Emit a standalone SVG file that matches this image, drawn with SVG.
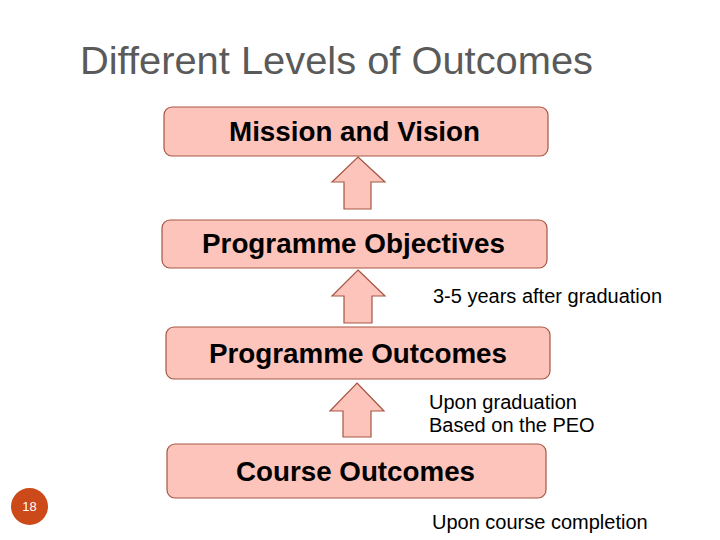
<svg xmlns="http://www.w3.org/2000/svg" width="720" height="540" viewBox="0 0 720 540">
<style>
.box{fill:#fdc4bb;stroke:#a65643;stroke-width:1.2}
.arr{fill:#fdc4bb;stroke:#a65643;stroke-width:1.2}
.bt{font-family:"Liberation Sans",Arial,sans-serif;font-weight:bold;font-size:27px;fill:#000;text-anchor:middle}
.lt{font-family:"Liberation Sans",Arial,sans-serif;font-size:20px;fill:#000}
</style>
<rect width="720" height="540" fill="#fff"/>
<text x="80" y="74" font-family="Liberation Sans, Arial, sans-serif" font-size="39.5" fill="#5a5a5a" textLength="513" lengthAdjust="spacingAndGlyphs">Different Levels of Outcomes</text>
<g id="connectors">
<polygon class="arr" points="358,157 385,182 371,182 371,209 344,209 344,182 332,182"/>
<polygon class="arr" points="358,270 385,296 372,296 372,323 344,323 344,296 332,296"/>
<polygon class="arr" points="357,383 384,411 371,411 371,437 343,437 343,411 330,411"/>
</g>
<g id="mission">
<rect class="box" x="164" y="107" width="384" height="49" rx="8"/>
<text class="bt" x="354.5" y="141" textLength="251" lengthAdjust="spacingAndGlyphs">Mission and Vision</text>
</g>
<g id="peo">
<rect class="box" x="162" y="220" width="385" height="48" rx="8"/>
<text class="bt" x="353.5" y="253" textLength="303" lengthAdjust="spacingAndGlyphs">Programme Objectives</text>
</g>
<g id="po">
<rect class="box" x="166" y="327" width="384" height="52" rx="8"/>
<text class="bt" x="358" y="363" textLength="298" lengthAdjust="spacingAndGlyphs">Programme Outcomes</text>
</g>
<g id="co">
<rect class="box" x="167" y="444" width="379" height="54" rx="8"/>
<text class="bt" x="355.5" y="481" textLength="239" lengthAdjust="spacingAndGlyphs">Course Outcomes</text>
</g>
<text class="lt" x="433" y="303" font-size="19">3-5 years after graduation</text>
<text class="lt" x="429" y="409">Upon graduation</text>
<text class="lt" x="429" y="432">Based on the PEO</text>
<text class="lt" x="432" y="529">Upon course completion</text>
<g id="page">
<circle cx="29.5" cy="506.5" r="18.5" fill="#cc4a1a"/>
<text x="29.5" y="511" font-family="Liberation Sans, Arial, sans-serif" font-size="13" fill="#fff" text-anchor="middle">18</text>
</g>
</svg>
